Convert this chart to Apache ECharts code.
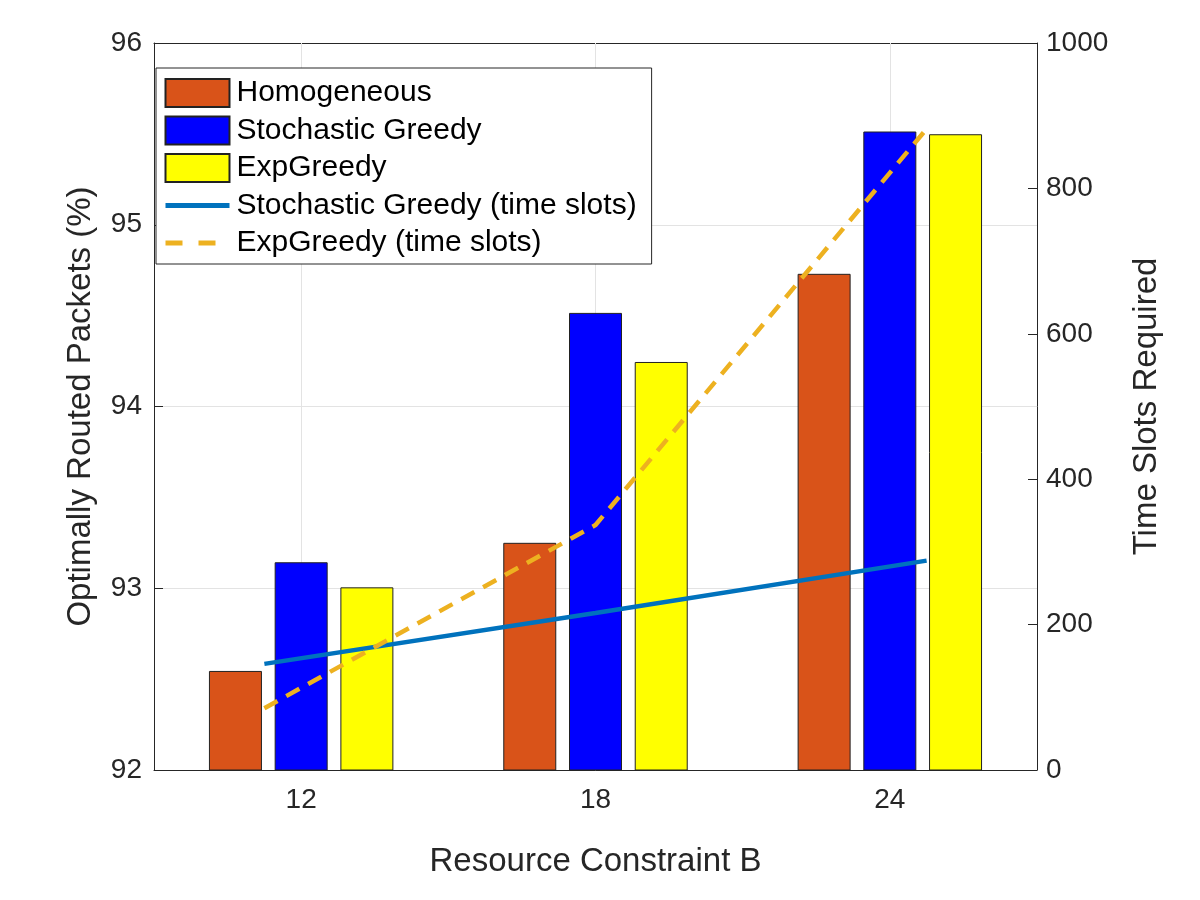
<!DOCTYPE html>
<html>
<head>
<meta charset="utf-8">
<script src="https://cdn.jsdelivr.net/npm/echarts@6/dist/echarts.min.js"></script>
<style>
  html, body { margin: 0; padding: 0; background: #fff; }
  #chart { width: 1200px; height: 900px; }
</style>
</head>
<body>
<div id="chart"></div>
<script>
// categories (resource constraint B)
const categories = ['12', '18', '24'];
const gridX = [12, 18, 24];

// bar values, left axis (%)
const homogeneous = [92.545, 93.25, 94.73];
const stochasticGreedy = [93.143, 94.515, 95.513];
const expGreedy = [93.005, 94.245, 95.498];

// time slot lines, right axis
const lineX = [11.25, 18, 24.75];
const stochasticSlots = [146, 216, 288];
const expSlots = [85, 337, 882];

const leftTicks = [92, 96, 1];
const rightTicks = [0, 1000, 200];

const axisColor = '#262626';
const font = 'Liberation Sans, Arial, sans-serif';

const myChart = echarts.init(document.getElementById('chart'));

function pairs(xs, ys) {
    return xs.map((x, i) => [x, ys[i]]);
}

function barSeries(name, data, color) {
    return {
        name: name,
        type: 'bar',
        xAxisIndex: 0,
        yAxisIndex: 0,
        data: data,
        barWidth: 53,
        barGap: '24%',
        itemStyle: { color: color, borderColor: '#222', borderWidth: 1 }
    };
}

function lineSeries(name, data, color, dash) {
    return {
        name: name,
        type: 'line',
        xAxisIndex: 1,
        yAxisIndex: 1,
        data: data,
        symbol: 'none',
        z: 5,
        color: color,
        itemStyle: { color: color, opacity: 0 },
        lineStyle: { color: color, width: 4.5, type: dash, cap: 'butt' }
    };
}

const slotSeries = lineSeries('Stochastic Greedy (time slots)',
    pairs(lineX, stochasticSlots), '#0072BD', 'solid');
// vertical grid lines at the category centres
slotSeries.markLine = {
    silent: true,
    z: 1,
    symbol: ['none', 'none'],
    label: { show: false },
    lineStyle: { color: '#e3e3e3', width: 1, type: 'solid' },
    data: gridX.map(x => ({ xAxis: x }))
};

const tickFont = { fontSize: 28, color: axisColor, fontFamily: font };
const nameFont = { fontSize: 33, color: axisColor, fontFamily: font };

myChart.setOption({
    animation: false,
    backgroundColor: '#fff',
    textStyle: { fontFamily: font },
    grid: { left: 154, right: 163, top: 43, bottom: 130 },
    legend: {
        orient: 'vertical',
        left: 156,
        top: 68,
        padding: [10, 15, 6, 7],
        itemWidth: 64,
        itemHeight: 28,
        itemGap: 7.5,
        backgroundColor: '#fff',
        borderColor: '#262626',
        borderWidth: 1,
        textStyle: { fontSize: 30, lineHeight: 28, color: '#000', fontFamily: font, padding: [0, 0, 0, 2] },
        data: [
            { name: 'Homogeneous', icon: 'rect' },
            { name: 'Stochastic Greedy', icon: 'rect' },
            { name: 'ExpGreedy', icon: 'rect' },
            {
                name: 'Stochastic Greedy (time slots)',
                itemStyle: { opacity: 0 },
                lineStyle: { width: 5, type: 'solid' }
            },
            {
                name: 'ExpGreedy (time slots)',
                itemStyle: { opacity: 0 },
                lineStyle: { width: 5, type: [17, 16] }
            }
        ]
    },
    xAxis: [{
        type: 'category',
        data: categories,
        name: 'Resource Constraint B',
        nameLocation: 'middle',
        nameGap: 75,
        nameTextStyle: nameFont,
        axisLine: { lineStyle: { color: axisColor, width: 1 } },
        axisTick: { inside: true, alignWithLabel: true, length: 9, lineStyle: { color: axisColor } },
        axisLabel: Object.assign({ margin: 16 }, tickFont),
        splitLine: { show: false }
    }, {
        type: 'value',
        position: 'top',
        min: 9,
        max: 27,
        axisLine: { show: true, onZero: false, lineStyle: { color: axisColor, width: 1 } },
        axisTick: { show: false },
        axisLabel: { show: false },
        splitLine: { show: false }
    }],
    yAxis: [{
        type: 'value',
        position: 'left',
        min: leftTicks[0],
        max: leftTicks[1],
        interval: leftTicks[2],
        name: 'Optimally Routed Packets (%)',
        nameLocation: 'middle',
        nameRotate: 90,
        nameGap: 57,
        nameTextStyle: nameFont,
        axisLine: { show: true, lineStyle: { color: axisColor, width: 1 } },
        axisTick: { show: true, inside: true, length: 9, lineStyle: { color: axisColor } },
        axisLabel: Object.assign({ margin: 12 }, tickFont),
        splitLine: { lineStyle: { color: '#e3e3e3', width: 1 } }
    }, {
        type: 'value',
        position: 'right',
        min: rightTicks[0],
        max: rightTicks[1],
        interval: rightTicks[2],
        name: 'Time Slots Required',
        nameLocation: 'middle',
        nameRotate: 90,
        nameGap: 93,
        nameTextStyle: nameFont,
        axisLine: { show: true, lineStyle: { color: axisColor, width: 1 } },
        axisTick: { show: true, inside: true, length: 9, lineStyle: { color: axisColor } },
        axisLabel: Object.assign({ margin: 9, formatter: v => String(v) }, tickFont),
        splitLine: { show: false }
    }],
    series: [
        barSeries('Homogeneous', homogeneous, '#D95319'),
        barSeries('Stochastic Greedy', stochasticGreedy, '#0000FF'),
        barSeries('ExpGreedy', expGreedy, '#FFFF00'),
        slotSeries,
        lineSeries('ExpGreedy (time slots)', pairs(lineX, expSlots), '#EDB120', [15, 10])
    ]
});
</script>
</body>
</html>
